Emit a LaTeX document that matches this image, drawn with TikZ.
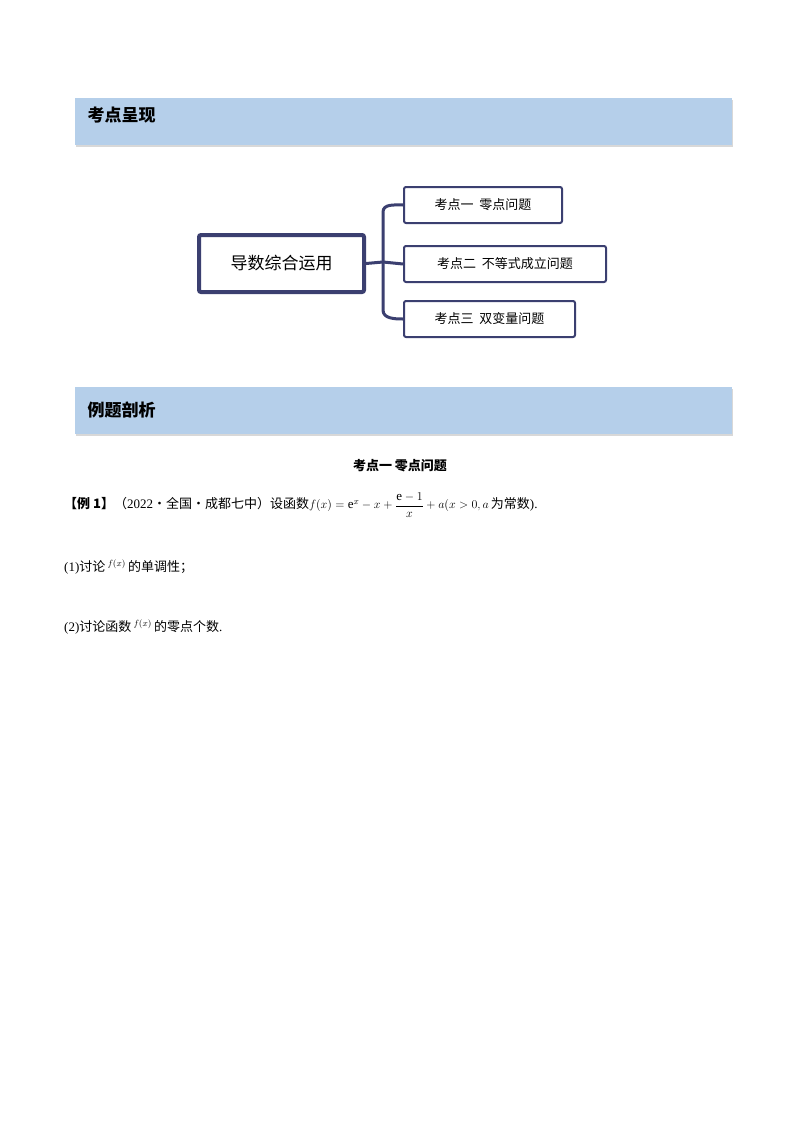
\documentclass[tikz,border=0pt]{standalone}
\usepackage{fontspec}
\setmainfont{Liberation Serif}
\newfontfamily\cjk{Noto Sans CJK SC}
\newcommand\cjkb{\cjk\bfseries}
\usetikzlibrary{shadows}
\definecolor{navy}{HTML}{3B3F70}
\definecolor{barblue}{HTML}{B5CFEA}
\tikzset{
 bar/.style={fill=barblue,draw=none,minimum width=657pt,minimum height=47pt,anchor=north west,drop shadow={shadow xshift=1pt,shadow yshift=-2pt,opacity=0.3}},
 bartext/.style={anchor=west,font=\cjkb\fontsize{17}{20}\selectfont},
 leaf/.style={draw=navy,line width=2pt,rounded corners=2pt,fill=white,anchor=north west,minimum height=36pt,font=\cjk\fontsize{13}{15}\selectfont,inner xsep=0pt},
 conn/.style={draw=navy,line width=3pt},
 body/.style={anchor=west,font=\fontsize{13}{15}\selectfont,inner sep=0pt}
}
\begin{document}
\begin{tikzpicture}[x=1pt,y=-1pt]
\useasboundingbox[fill=white] (0,0) rectangle (800,1132);
\node[bar] (b1) at (75,98) {};
\node[bartext] (t1) at (84,115) {考点呈现};
\node[bar] (b2) at (75,387) {};
\node[bartext] (t2) at (84,410) {例题剖析};
\node[draw=navy,line width=4pt,rounded corners=2pt,minimum width=165pt,minimum height=57pt,anchor=north west,font=\cjk\fontsize{17}{20}\selectfont] (c) at (197,233) {导数综合运用};
\node[leaf,minimum width=158pt] (k1) at (403,186) {考点一\ \ 零点问题};
\node[leaf,minimum width=202pt] (k2) at (403,245) {考点二\ \ 不等式成立问题};
\node[leaf,minimum width=171pt] (k3) at (403,300) {考点三\ \ 双变量问题};
\coordinate (j) at (383,262);
\draw[conn] (c.east) -- (j);
\draw[conn] (j) -- (383,212) to[out=90,in=180] (k1.west);
\draw[conn] (j) -- (k2.west);
\draw[conn] (j) -- (383,310) to[out=-90,in=180] (k3.west);
\node[font=\cjkb\fontsize{13}{15}\selectfont] (h) at (400,466) {考点一\ 零点问题};
\node[body] (e1) at (64,505) {{\cjkb 【例 1】}{\cjk（}2022{\cjk·全国·成都七中）设函数}$f(x)=\mathrm{e}^x-x+\displaystyle\frac{\mathrm{e}-1}{x}+a(x>0,a$\,{\cjk 为常数}).};
\node[body] (e2) at (64,567) {(1){\cjk 讨论}\,$^{f\left(x\right)}$\,{\cjk 的单调性；}};
\node[body] (e3) at (64,627) {(2){\cjk 讨论函数}\,$^{f\left(x\right)}$\,{\cjk 的零点个数}.};
\end{tikzpicture}
\end{document}
